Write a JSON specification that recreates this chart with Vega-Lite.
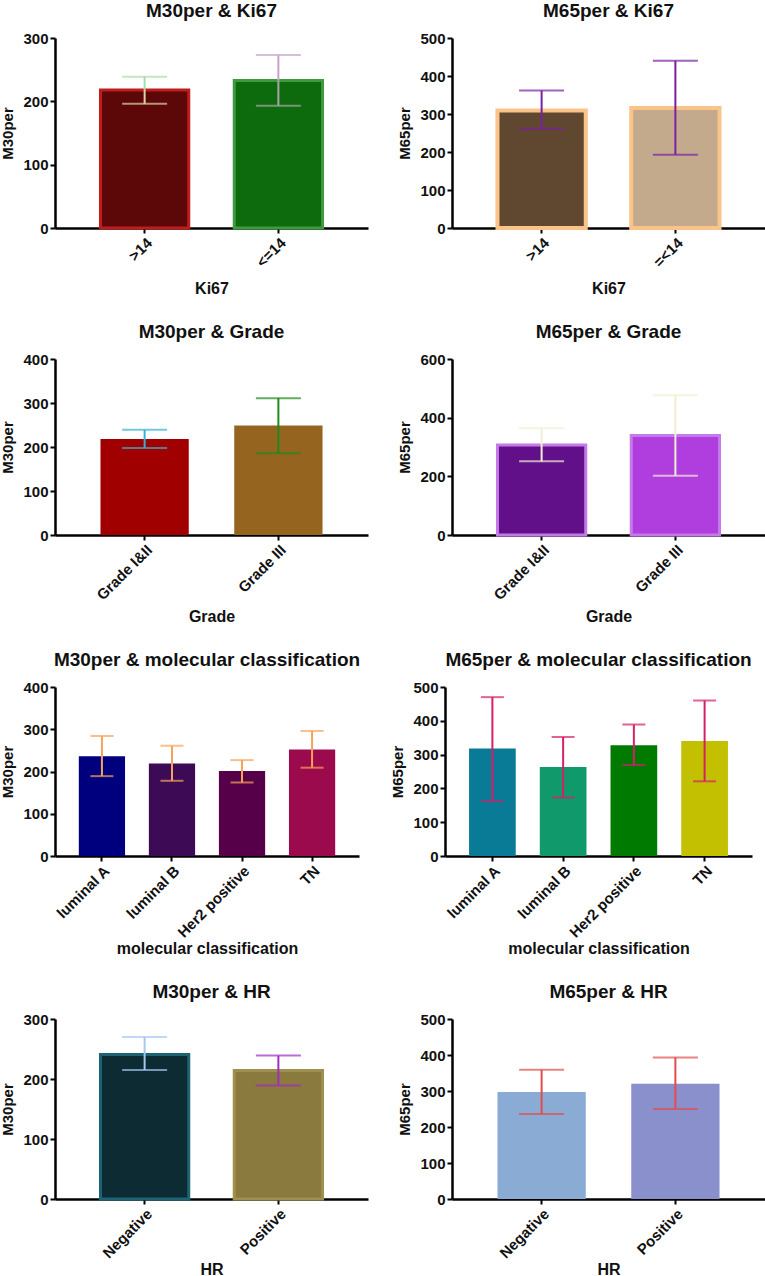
{
  "$schema": "https://vega.github.io/schema/vega-lite/v6.json",
  "padding": {"left": 0, "top": 2, "right": 0, "bottom": 0},
  "background": "white",
  "data": {"values": [
    {"panel": "p1", "cat": ">14", "mean": 218, "lo": 196, "hi": 239},
    {"panel": "p1", "cat": "<=14", "mean": 233, "lo": 193, "hi": 273},
    {"panel": "p2", "cat": ">14", "mean": 309, "lo": 261, "hi": 362},
    {"panel": "p2", "cat": "=<14", "mean": 316, "lo": 193, "hi": 440},
    {"panel": "p3", "cat": "Grade I&II", "mean": 218, "lo": 198, "hi": 239},
    {"panel": "p3", "cat": "Grade III", "mean": 249, "lo": 186, "hi": 311},
    {"panel": "p4", "cat": "Grade I&II", "mean": 307, "lo": 251, "hi": 364},
    {"panel": "p4", "cat": "Grade III", "mean": 339, "lo": 202, "hi": 476},
    {"panel": "p5", "cat": "luminal A", "mean": 236, "lo": 189, "hi": 284},
    {"panel": "p5", "cat": "luminal B", "mean": 219, "lo": 178, "hi": 261},
    {"panel": "p5", "cat": "Her2 positive", "mean": 201, "lo": 174, "hi": 227},
    {"panel": "p5", "cat": "TN", "mean": 252, "lo": 209, "hi": 296},
    {"panel": "p6", "cat": "luminal A", "mean": 318, "lo": 162, "hi": 470},
    {"panel": "p6", "cat": "luminal B", "mean": 263, "lo": 173, "hi": 352},
    {"panel": "p6", "cat": "Her2 positive", "mean": 328, "lo": 269, "hi": 389},
    {"panel": "p6", "cat": "TN", "mean": 340, "lo": 221, "hi": 460},
    {"panel": "p7", "cat": "Negative", "mean": 241, "lo": 215, "hi": 270},
    {"panel": "p7", "cat": "Positive", "mean": 214, "lo": 189, "hi": 239},
    {"panel": "p8", "cat": "Negative", "mean": 297, "lo": 236, "hi": 359},
    {"panel": "p8", "cat": "Positive", "mean": 320, "lo": 250, "hi": 393}
  ]},
  "config": {
    "font": "Liberation Sans",
    "view": {"stroke": null},
    "scale": {"bandPaddingInner": 0.34, "bandPaddingOuter": 0.34},
    "title": {"font": "Liberation Sans", "fontSize": 19, "fontWeight": "bold", "color": "#111", "frame": "group", "anchor": "middle", "offset": 10},
    "axis": {"grid": false, "domainColor": "#000", "domainWidth": 2.5, "tickColor": "#000", "tickWidth": 2, "tickSize": 5,
      "labelFont": "Liberation Sans", "labelFontWeight": "bold", "labelFontSize": 14, "labelColor": "#111", "labelPadding": 2,
      "titleFont": "Liberation Sans", "titleFontWeight": "bold", "titleColor": "#111"},
    "axisX": {"labelAngle": -45, "titleFontSize": 16, "labelFontSize": 15},
    "axisY": {"titleFontSize": 15, "titlePadding": 7, "labelFontSize": 15}
  },
  "resolve": {"scale": {"color": "independent", "stroke": "independent"}},
  "spacing": 26,
  "vconcat": [
    {"hconcat": [
      {"width": 313, "height": 190, "title": "M30per & Ki67",
       "transform": [{"filter": "datum.panel == 'p1'"}],
       "encoding": {"x": {"field": "cat", "type": "nominal", "sort": null, "title": "Ki67", "axis": {"titlePadding": 11}}},
       "layer": [
         {"mark": {"type": "bar", "strokeWidth": 3}, "encoding": {
           "y": {"field": "mean", "type": "quantitative", "title": "M30per", "scale": {"domain": [0, 300]}, "axis": {"values": [0, 100, 200, 300]}},
           "color": {"field": "cat", "type": "nominal", "legend": null, "scale": {"domain": [">14", "<=14"], "range": ["#5c0808", "#0d6b0d"]}},
           "stroke": {"field": "cat", "type": "nominal", "legend": null, "scale": {"domain": [">14", "<=14"], "range": ["#bf1d1d", "#3d9b3d"]}}}},
         {"mark": {"type": "rule", "strokeWidth": 2}, "encoding": {
           "y": {"field": "mean", "type": "quantitative", "title": "M30per", "axis": {"values": [0, 100, 200, 300]}}, "y2": {"field": "hi"},
           "color": {"field": "cat", "type": "nominal", "legend": null, "scale": {"domain": [">14", "<=14"], "range": ["#a9dca9", "#c9a2c9"]}}}},
         {"mark": {"type": "tick", "thickness": 2, "size": 45}, "encoding": {
           "y": {"field": "hi", "type": "quantitative", "title": "M30per", "axis": {"values": [0, 100, 200, 300]}},
           "color": {"field": "cat", "type": "nominal", "legend": null, "scale": {"domain": [">14", "<=14"], "range": ["#a9dca9", "#c9a2c9"]}}}},
         {"mark": {"type": "rule", "strokeWidth": 2}, "encoding": {
           "y": {"field": "lo", "type": "quantitative", "title": "M30per", "axis": {"values": [0, 100, 200, 300]}}, "y2": {"field": "mean"},
           "color": {"field": "cat", "type": "nominal", "legend": null, "scale": {"domain": [">14", "<=14"], "range": ["#dcd4a6", "#a6a6a6"]}}}},
         {"mark": {"type": "tick", "thickness": 2, "size": 45}, "encoding": {
           "y": {"field": "lo", "type": "quantitative", "title": "M30per", "axis": {"values": [0, 100, 200, 300]}},
           "color": {"field": "cat", "type": "nominal", "legend": null, "scale": {"domain": [">14", "<=14"], "range": ["#dcd4a6", "#a6a6a6"]}}}}
       ],
       "resolve": {"scale": {"color": "independent", "stroke": "independent"}}},
      {"width": 313, "height": 190, "title": "M65per & Ki67",
       "transform": [{"filter": "datum.panel == 'p2'"}],
       "encoding": {"x": {"field": "cat", "type": "nominal", "sort": null, "title": "Ki67", "axis": {"titlePadding": 11}}},
       "layer": [
         {"mark": {"type": "bar", "strokeWidth": 4, "stroke": "#f9c389"}, "encoding": {
           "y": {"field": "mean", "type": "quantitative", "title": "M65per", "scale": {"domain": [0, 500]}, "axis": {"values": [0, 100, 200, 300, 400, 500]}},
           "color": {"field": "cat", "type": "nominal", "legend": null, "scale": {"domain": [">14", "=<14"], "range": ["#604830", "#c4aa8c"]}}}},
         {"mark": {"type": "rule", "strokeWidth": 2, "color": "#7b1fa2"}, "encoding": {
           "y": {"field": "lo", "type": "quantitative", "title": "M65per", "axis": {"values": [0, 100, 200, 300, 400, 500]}}, "y2": {"field": "hi"}}},
         {"mark": {"type": "tick", "thickness": 2, "size": 45, "color": "#7b1fa2"}, "encoding": {
           "y": {"field": "hi", "type": "quantitative", "title": "M65per", "axis": {"values": [0, 100, 200, 300, 400, 500]}}}},
         {"mark": {"type": "tick", "thickness": 2, "size": 45, "color": "#7b1fa2"}, "encoding": {
           "y": {"field": "lo", "type": "quantitative", "title": "M65per", "axis": {"values": [0, 100, 200, 300, 400, 500]}}}}
       ]}
    ], "spacing": 29, "resolve": {"scale": {"color": "independent", "stroke": "independent"}}},
    {"hconcat": [
      {"width": 313, "height": 176, "title": "M30per & Grade",
       "transform": [{"filter": "datum.panel == 'p3'"}],
       "encoding": {"x": {"field": "cat", "type": "nominal", "sort": null, "title": "Grade", "axis": {"titlePadding": 6}}},
       "layer": [
         {"mark": {"type": "bar"}, "encoding": {
           "y": {"field": "mean", "type": "quantitative", "title": "M30per", "scale": {"domain": [0, 400]}, "axis": {"values": [0, 100, 200, 300, 400]}},
           "color": {"field": "cat", "type": "nominal", "legend": null, "scale": {"domain": ["Grade I&II", "Grade III"], "range": ["#a10000", "#956520"]}}}},
         {"mark": {"type": "rule", "strokeWidth": 2}, "encoding": {
           "y": {"field": "lo", "type": "quantitative", "title": "M30per", "axis": {"values": [0, 100, 200, 300, 400]}}, "y2": {"field": "hi"},
           "color": {"field": "cat", "type": "nominal", "legend": null, "scale": {"domain": ["Grade I&II", "Grade III"], "range": ["#38b0d0", "#1e8a1e"]}}}},
         {"mark": {"type": "tick", "thickness": 2, "size": 45}, "encoding": {
           "y": {"field": "hi", "type": "quantitative", "title": "M30per", "axis": {"values": [0, 100, 200, 300, 400]}},
           "color": {"field": "cat", "type": "nominal", "legend": null, "scale": {"domain": ["Grade I&II", "Grade III"], "range": ["#38b0d0", "#1e8a1e"]}}}},
         {"mark": {"type": "tick", "thickness": 2, "size": 45}, "encoding": {
           "y": {"field": "lo", "type": "quantitative", "title": "M30per", "axis": {"values": [0, 100, 200, 300, 400]}},
           "color": {"field": "cat", "type": "nominal", "legend": null, "scale": {"domain": ["Grade I&II", "Grade III"], "range": ["#38b0d0", "#1e8a1e"]}}}}
       ],
       "resolve": {"scale": {"color": "independent"}}},
      {"width": 313, "height": 176, "title": "M65per & Grade",
       "transform": [{"filter": "datum.panel == 'p4'"}],
       "encoding": {"x": {"field": "cat", "type": "nominal", "sort": null, "title": "Grade", "axis": {"titlePadding": 6}}},
       "layer": [
         {"mark": {"type": "bar", "strokeWidth": 3, "stroke": "#c47ae8"}, "encoding": {
           "y": {"field": "mean", "type": "quantitative", "title": "M65per", "scale": {"domain": [0, 600]}, "axis": {"values": [0, 200, 400, 600]}},
           "color": {"field": "cat", "type": "nominal", "legend": null, "scale": {"domain": ["Grade I&II", "Grade III"], "range": ["#62108a", "#b03ede"]}}}},
         {"mark": {"type": "rule", "strokeWidth": 2, "color": "#f2eed2"}, "encoding": {
           "y": {"field": "lo", "type": "quantitative", "title": "M65per", "axis": {"values": [0, 200, 400, 600]}}, "y2": {"field": "hi"}}},
         {"mark": {"type": "tick", "thickness": 2, "size": 45, "color": "#f2eed2"}, "encoding": {
           "y": {"field": "hi", "type": "quantitative", "title": "M65per", "axis": {"values": [0, 200, 400, 600]}}}},
         {"mark": {"type": "tick", "thickness": 2, "size": 45, "color": "#f2eed2"}, "encoding": {
           "y": {"field": "lo", "type": "quantitative", "title": "M65per", "axis": {"values": [0, 200, 400, 600]}}}}
       ]}
    ], "spacing": 29, "resolve": {"scale": {"color": "independent", "stroke": "independent"}}},
    {"hconcat": [
      {"width": 304, "height": 169, "title": "M30per & molecular classification",
       "transform": [{"filter": "datum.panel == 'p5'"}],
       "encoding": {"x": {"field": "cat", "type": "nominal", "sort": null, "title": "molecular classification", "axis": {"titlePadding": 0}}},
       "layer": [
         {"mark": {"type": "bar"}, "encoding": {
           "y": {"field": "mean", "type": "quantitative", "title": "M30per", "scale": {"domain": [0, 400]}, "axis": {"values": [0, 100, 200, 300, 400]}},
           "color": {"field": "cat", "type": "nominal", "legend": null, "scale": {"domain": ["luminal A", "luminal B", "Her2 positive", "TN"], "range": ["#00007f", "#3d0a55", "#550048", "#9b0a4c"]}}}},
         {"mark": {"type": "rule", "strokeWidth": 2, "color": "#f6a35a"}, "encoding": {
           "y": {"field": "lo", "type": "quantitative", "title": "M30per", "axis": {"values": [0, 100, 200, 300, 400]}}, "y2": {"field": "hi"}}},
         {"mark": {"type": "tick", "thickness": 2, "size": 23, "color": "#f6a35a"}, "encoding": {
           "y": {"field": "hi", "type": "quantitative", "title": "M30per", "axis": {"values": [0, 100, 200, 300, 400]}}}},
         {"mark": {"type": "tick", "thickness": 2, "size": 23, "color": "#f6a35a"}, "encoding": {
           "y": {"field": "lo", "type": "quantitative", "title": "M30per", "axis": {"values": [0, 100, 200, 300, 400]}}}}
       ]},
      {"width": 307, "height": 169, "title": "M65per & molecular classification",
       "transform": [{"filter": "datum.panel == 'p6'"}],
       "encoding": {"x": {"field": "cat", "type": "nominal", "sort": null, "title": "molecular classification", "axis": {"titlePadding": 0}}},
       "layer": [
         {"mark": {"type": "bar"}, "encoding": {
           "y": {"field": "mean", "type": "quantitative", "title": "M65per", "scale": {"domain": [0, 500]}, "axis": {"values": [0, 100, 200, 300, 400, 500]}},
           "color": {"field": "cat", "type": "nominal", "legend": null, "scale": {"domain": ["luminal A", "luminal B", "Her2 positive", "TN"], "range": ["#0a7b96", "#10996a", "#007a00", "#c2c000"]}}}},
         {"mark": {"type": "rule", "strokeWidth": 2, "color": "#d4206c"}, "encoding": {
           "y": {"field": "lo", "type": "quantitative", "title": "M65per", "axis": {"values": [0, 100, 200, 300, 400, 500]}}, "y2": {"field": "hi"}}},
         {"mark": {"type": "tick", "thickness": 2, "size": 23, "color": "#d4206c"}, "encoding": {
           "y": {"field": "hi", "type": "quantitative", "title": "M65per", "axis": {"values": [0, 100, 200, 300, 400, 500]}}}},
         {"mark": {"type": "tick", "thickness": 2, "size": 23, "color": "#d4206c"}, "encoding": {
           "y": {"field": "lo", "type": "quantitative", "title": "M65per", "axis": {"values": [0, 100, 200, 300, 400, 500]}}}}
       ]}
    ], "spacing": 29, "resolve": {"scale": {"color": "independent", "stroke": "independent"}}},
    {"hconcat": [
      {"width": 313, "height": 180, "title": "M30per & HR",
       "transform": [{"filter": "datum.panel == 'p7'"}],
       "encoding": {"x": {"field": "cat", "type": "nominal", "sort": null, "title": "HR", "axis": {"titlePadding": 1}}},
       "layer": [
         {"mark": {"type": "bar", "strokeWidth": 3}, "encoding": {
           "y": {"field": "mean", "type": "quantitative", "title": "M30per", "scale": {"domain": [0, 300]}, "axis": {"values": [0, 100, 200, 300]}},
           "color": {"field": "cat", "type": "nominal", "legend": null, "scale": {"domain": ["Negative", "Positive"], "range": ["#0d2b33", "#8a7a3e"]}},
           "stroke": {"field": "cat", "type": "nominal", "legend": null, "scale": {"domain": ["Negative", "Positive"], "range": ["#1c6474", "#a09050"]}}}},
         {"mark": {"type": "rule", "strokeWidth": 2}, "encoding": {
           "y": {"field": "lo", "type": "quantitative", "title": "M30per", "axis": {"values": [0, 100, 200, 300]}}, "y2": {"field": "hi"},
           "color": {"field": "cat", "type": "nominal", "legend": null, "scale": {"domain": ["Negative", "Positive"], "range": ["#a4c8ee", "#a22cc0"]}}}},
         {"mark": {"type": "tick", "thickness": 2, "size": 45}, "encoding": {
           "y": {"field": "hi", "type": "quantitative", "title": "M30per", "axis": {"values": [0, 100, 200, 300]}},
           "color": {"field": "cat", "type": "nominal", "legend": null, "scale": {"domain": ["Negative", "Positive"], "range": ["#a4c8ee", "#a22cc0"]}}}},
         {"mark": {"type": "tick", "thickness": 2, "size": 45}, "encoding": {
           "y": {"field": "lo", "type": "quantitative", "title": "M30per", "axis": {"values": [0, 100, 200, 300]}},
           "color": {"field": "cat", "type": "nominal", "legend": null, "scale": {"domain": ["Negative", "Positive"], "range": ["#a4c8ee", "#a22cc0"]}}}}
       ],
       "resolve": {"scale": {"color": "independent", "stroke": "independent"}}},
      {"width": 313, "height": 180, "title": "M65per & HR",
       "transform": [{"filter": "datum.panel == 'p8'"}],
       "encoding": {"x": {"field": "cat", "type": "nominal", "sort": null, "title": "HR", "axis": {"titlePadding": 1}}},
       "layer": [
         {"mark": {"type": "bar"}, "encoding": {
           "y": {"field": "mean", "type": "quantitative", "title": "M65per", "scale": {"domain": [0, 500]}, "axis": {"values": [0, 100, 200, 300, 400, 500]}},
           "color": {"field": "cat", "type": "nominal", "legend": null, "scale": {"domain": ["Negative", "Positive"], "range": ["#8aabd3", "#8a90cc"]}}}},
         {"mark": {"type": "rule", "strokeWidth": 2, "color": "#e44c4c"}, "encoding": {
           "y": {"field": "lo", "type": "quantitative", "title": "M65per", "axis": {"values": [0, 100, 200, 300, 400, 500]}}, "y2": {"field": "hi"}}},
         {"mark": {"type": "tick", "thickness": 2, "size": 45, "color": "#e44c4c"}, "encoding": {
           "y": {"field": "hi", "type": "quantitative", "title": "M65per", "axis": {"values": [0, 100, 200, 300, 400, 500]}}}},
         {"mark": {"type": "tick", "thickness": 2, "size": 45, "color": "#e44c4c"}, "encoding": {
           "y": {"field": "lo", "type": "quantitative", "title": "M65per", "axis": {"values": [0, 100, 200, 300, 400, 500]}}}}
       ]}
    ], "spacing": 29, "resolve": {"scale": {"color": "independent", "stroke": "independent"}}}
  ]
}
